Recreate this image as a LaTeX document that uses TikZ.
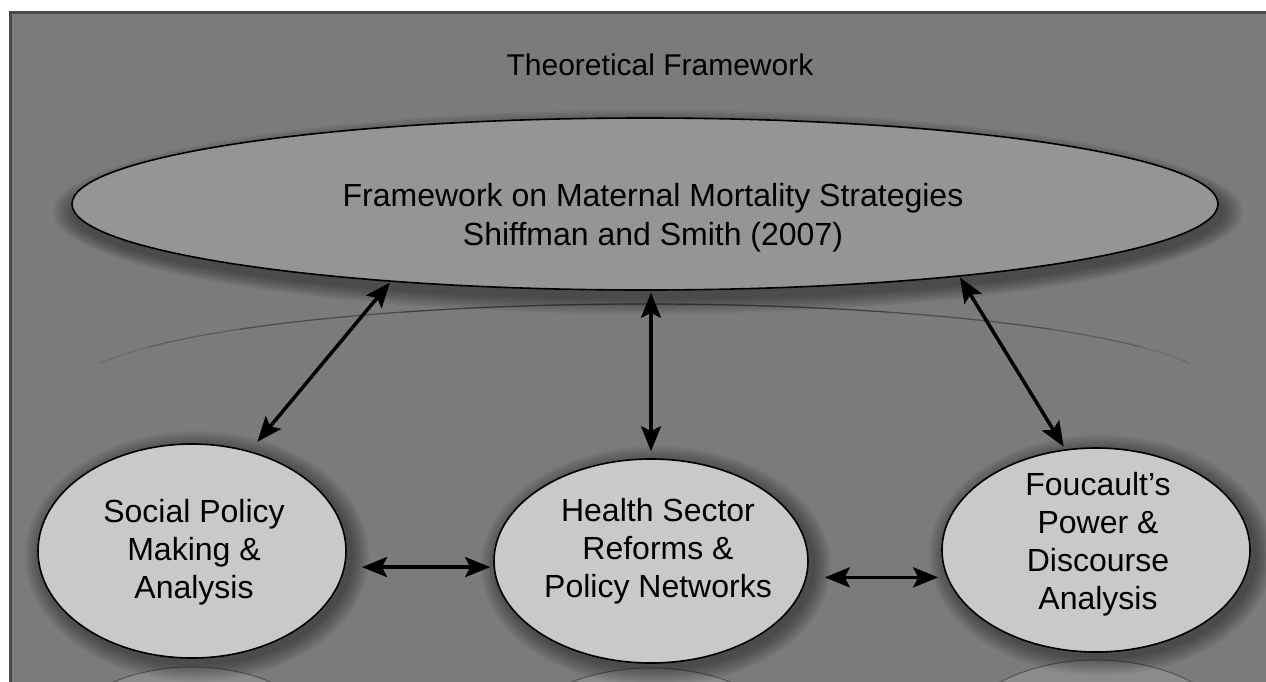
\documentclass[tikz,border=0pt]{standalone}
\usepackage{fontspec}
\setmainfont{Liberation Sans}
\usetikzlibrary{arrows.meta,shapes.geometric}
\definecolor{bgc}{HTML}{7B7B7B}
\definecolor{bigc}{HTML}{959595}
\definecolor{smallc}{HTML}{C9C9C9}
\definecolor{framec}{HTML}{4A4A4A}
\begin{document}
\begin{tikzpicture}[x=1pt,y=-1pt,
  ell/.style={ellipse, draw=black, line width=1.6pt, inner sep=0pt},
  lbl/.style={align=center, inner sep=0pt, text=black, font=\fontsize{32}{39}\selectfont},
  link/.style={{Stealth[length=25pt,width=20pt,inset=5pt]}-{Stealth[length=25pt,width=20pt,inset=5pt]}, line width=3.5pt, black},
  halo/.style={black, opacity=0.045},
  refl/.style={fill=white, fill opacity=0.12, draw=black, draw opacity=0.35, line width=1pt}]
\useasboundingbox (0,0) rectangle (1266,681);
\clip (0,0) rectangle (1266,681);
\fill[white] (0,0) rectangle (1266,681);
% frame
\fill[bgc] (10,12) rectangle (1280,700);
\begin{scope}
\clip (10,12) rectangle (1280,700);
% big ellipse shadow halo
\foreach \k in {1,...,10} \fill[halo] (648,212) ellipse ({573+\k*2.2} and {86+\k*1.6});
% reflection of big ellipse
\foreach \d/\o in {72/0.12,60/0.14,45/0.16,25/0.18}
  \draw[black, opacity=\o, line width=1.2pt] plot[domain=-\d:\d, samples=60] ({645+573*sin(\x)}, {390-86*cos(\x)});
% reflections of small ellipses
\filldraw[refl] (192,774) ellipse (154 and 107);
\filldraw[refl] (651,770) ellipse (157 and 102);
\filldraw[refl] (1096,762) ellipse (154 and 102);
% small ellipse halos
\foreach \k in {1,...,10} {
  \fill[halo] (197,556) ellipse ({154+\k*1.8} and {107+\k*1.8});
  \fill[halo] (656,566) ellipse ({157+\k*1.8} and {102+\k*1.8});
  \fill[halo] (1101,555) ellipse ({154+\k*1.8} and {102+\k*1.8});
}
\end{scope}
\draw[framec, line width=3pt] (10,12) rectangle (1280,700);
% title
\node[lbl, font=\fontsize{30}{36}\selectfont] (title) at (660,65) {Theoretical Framework};
% main ellipse
\node[ell, fill=bigc, minimum width=1146pt, minimum height=172pt] (fw) at (645,204) {};
\node[lbl] (fwtext) at (653,218) {Framework on Maternal Mortality Strategies\\Shiffman and Smith (2007)};
% small ellipses
\node[ell, fill=smallc, minimum width=308pt, minimum height=214pt] (sp) at (192,551) {};
\node[lbl, font=\fontsize{32}{38}\selectfont] (sptext) at (194,552) {Social Policy\\Making \&\\Analysis};
\node[ell, fill=smallc, minimum width=314pt, minimum height=204pt] (hs) at (651,561) {};
\node[lbl, font=\fontsize{32}{38}\selectfont] (hstext) at (658,551) {Health Sector\\Reforms \&\\Policy Networks};
\node[ell, fill=smallc, minimum width=308pt, minimum height=204pt] (fo) at (1096,550) {};
\node[lbl, font=\fontsize{32}{38}\selectfont] (fotext) at (1098,544) {Foucault's\\Power \&\\Discourse\\Analysis};
% connectors
\draw[link, shorten <=1pt, shorten >=12pt] (fw.197) -- (sp.60);
\draw[link, shorten <=2pt, shorten >=7pt] (hs.north |- fw.south) -- (hs.north);
\draw[link, shorten <=1pt, shorten >=3pt] (fw.347) -- (fo.107);
\draw[link, shorten <=17pt, shorten >=3pt] (sp.-6) -- (sp.-6 -| hs.west);
\draw[link, shorten <=18pt, shorten >=3pt] (hs.-6) -- (hs.-6 -| fo.west);
\end{tikzpicture}
\end{document}
